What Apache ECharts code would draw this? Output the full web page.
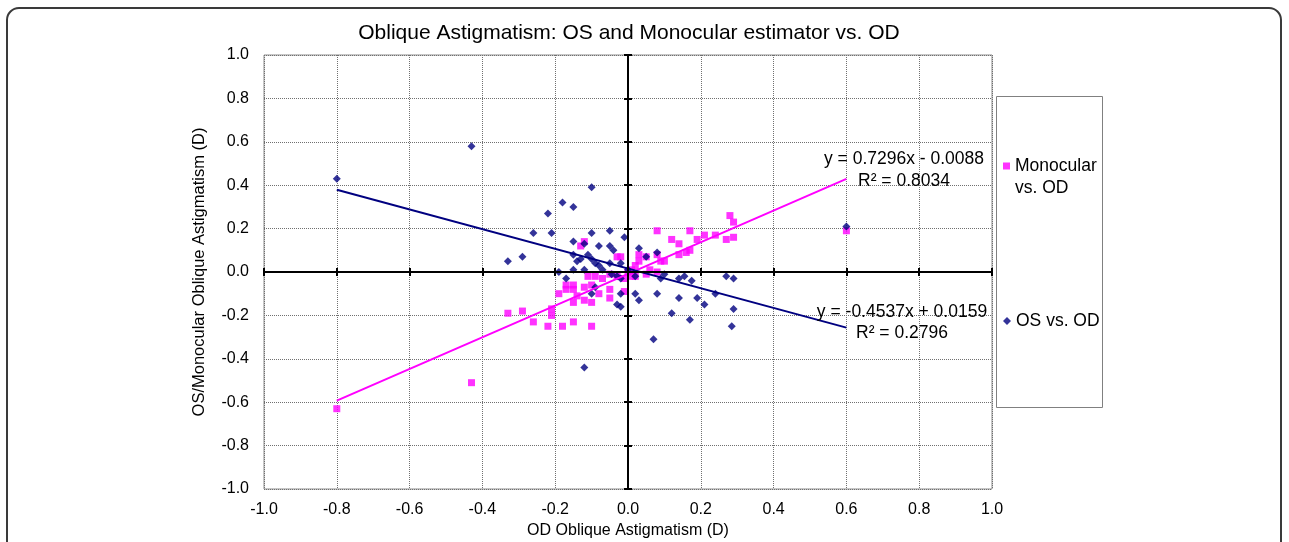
<!DOCTYPE html>
<html><head><meta charset="utf-8">
<script src="https://cdn.jsdelivr.net/npm/echarts@6/dist/echarts.min.js"></script>
<style>html,body{margin:0;padding:0;background:#fff}#c{width:1289px;height:542px}</style>
</head><body><div id="c"></div>
<script>
// ---- data ----
const titleText = 'Oblique Astigmatism: OS and Monocular estimator vs. OD';
const xAxisName = 'OD Oblique Astigmatism (D)';
const yAxisName = 'OS/Monocular Oblique Astigmatism (D)';
const axisRange = [-1, 1];
const axisStep = 0.2;

const monocularName = 'Monocular vs. OD';
const osName = 'OS vs. OD';

const monocularPoints = [
  [-0.80, -0.63], [-0.43, -0.51], [0.60, 0.19],
  [-0.33, -0.19], [-0.29, -0.18], [-0.26, -0.23], [-0.22, -0.25], [-0.21, -0.17],
  [-0.21, -0.20], [-0.18, -0.25], [-0.15, -0.23], [-0.10, -0.25], [-0.19, -0.10],
  [-0.17, -0.08], [-0.15, -0.08], [-0.14, -0.11], [-0.15, -0.14], [-0.12, -0.13],
  [-0.10, -0.14], [-0.12, -0.07], [-0.08, -0.10], [-0.05, -0.12], [-0.05, -0.08],
  [-0.11, -0.02], [-0.09, -0.02], [-0.07, -0.03], [-0.01, -0.09], [-0.03, -0.02],
  [-0.01, -0.03], [0.01, -0.02], [0.08, 0.19], [0.17, 0.19], [0.12, 0.15],
  [0.14, 0.13], [0.19, 0.15], [0.21, 0.17], [0.24, 0.17], [0.27, 0.15],
  [0.28, 0.26], [0.29, 0.23], [0.29, 0.16], [0.14, 0.08], [0.16, 0.09],
  [0.17, 0.10], [0.08, 0.08], [0.10, 0.05], [0.09, 0.05], [0.03, 0.08],
  [0.03, 0.05], [0.02, 0.03], [-0.02, 0.07], [0.08, 0.00], [-0.12, 0.14],
  [-0.13, 0.12], [0.00, 0.00], [-0.05, -0.01], [0.05, -0.01], [0.01, 0.01],
  [-0.03, 0.07], [0.05, 0.07], [-0.17, -0.06], [-0.15, -0.06], [-0.10, -0.06],
  [0.06, 0.01], [0.02, -0.02]
];

const osPoints = [
  [-0.80, 0.43], [-0.43, 0.58], [0.60, 0.21], [-0.10, 0.39], [-0.18, 0.32],
  [-0.15, 0.30], [-0.22, 0.27], [-0.26, 0.18], [-0.21, 0.18], [-0.10, 0.18],
  [-0.05, 0.19], [-0.01, 0.16], [-0.15, 0.14], [-0.12, 0.13], [-0.08, 0.12],
  [-0.05, 0.12], [-0.04, 0.10], [0.03, 0.11], [-0.29, 0.07], [-0.33, 0.05],
  [-0.15, 0.08], [-0.14, 0.05], [-0.13, 0.06], [-0.10, 0.06], [-0.11, 0.08],
  [-0.09, 0.04], [-0.05, 0.04], [-0.02, 0.04], [-0.08, 0.03], [-0.19, 0.00],
  [-0.17, -0.03], [-0.15, 0.01], [-0.12, 0.01], [-0.07, 0.01], [0.00, 0.01],
  [0.05, 0.07], [0.08, 0.09], [0.02, -0.02], [0.10, -0.01], [0.09, -0.03],
  [0.14, -0.03], [0.155, -0.02], [0.175, -0.04], [0.27, -0.02], [0.29, -0.03],
  [0.24, -0.10], [0.02, -0.10], [0.03, -0.13], [0.08, -0.10], [0.14, -0.12],
  [0.19, -0.12], [0.21, -0.15], [0.12, -0.19], [0.17, -0.22], [0.29, -0.17],
  [0.285, -0.25], [0.07, -0.31], [-0.02, -0.16], [-0.12, -0.44], [-0.09, -0.07],
  [-0.10, -0.10], [-0.045, -0.01], [-0.03, -0.02], [-0.02, -0.03], [-0.02, -0.10],
  [-0.03, -0.15]
];

// trendline coefficients as printed on the chart: slope, intercept, R²
const monocularFit = [0.7296, -0.0088, 0.8034];
const osFit = [-0.4537, 0.0159, 0.2796];

// ---- helpers ----
const FONT = 'Liberation Sans';
function fitLine(points, fit) {
  const xs = points.map(p => p[0]);
  const lo = Math.min(...xs), hi = Math.max(...xs);
  return [[lo, fit[0] * lo + fit[1]], [hi, fit[0] * hi + fit[1]]];
}
function eqText(fit) {
  const s = fit[0].toFixed(4);
  const b = fit[1] < 0 ? ' - ' + Math.abs(fit[1]).toFixed(4) : ' + ' + fit[1].toFixed(4);
  return 'y = ' + s + 'x' + b + '\nR² = ' + fit[2].toFixed(4);
}
const fmt = v => v.toFixed(1);
const PINK = '#FF00FF', NAVY = '#000080';

function zeroAxis(kind, inside) {
  return {
    type: 'value', min: axisRange[0], max: axisRange[1], interval: axisStep,
    position: kind === 'x' ? 'bottom' : 'left',
    axisLine: { show: true, onZero: true, onZeroAxisIndex: 0, lineStyle: { color: '#000', width: 2 } },
    axisTick: { show: true, inside: inside, length: 4, lineStyle: { color: '#000', width: 2 } },
    axisLabel: { show: false }, splitLine: { show: false }, z: 5
  };
}

const chart = echarts.init(document.getElementById('c'), null, { renderer: 'canvas' });
chart.setOption({
  animation: false,
  backgroundColor: '#fff',
  textStyle: { fontFamily: FONT, color: '#000' },
  title: {
    text: titleText, left: 629, top: 23, textAlign: 'center', padding: 0,
    textStyle: { fontFamily: FONT, fontSize: 21, fontWeight: 'normal', color: '#000' }
  },
  grid: {
    left: 264, top: 55, width: 728, height: 434,
    show: true, borderColor: '#8c8c8c', borderWidth: 1, containLabel: false, outerBoundsMode: 'none'
  },
  xAxis: [
    {
      type: 'value', min: axisRange[0], max: axisRange[1], interval: axisStep, position: 'bottom',
      axisLine: { show: false, onZero: false }, axisTick: { show: false },
      axisLabel: { formatter: fmt, fontSize: 16, color: '#000', margin: 13, fontFamily: FONT },
      splitLine: { show: true, lineStyle: { type: 'dotted', color: '#707070', width: 1 } },
      name: xAxisName, nameLocation: 'middle', nameGap: 31,
      nameTextStyle: { fontSize: 16, color: '#000', fontFamily: FONT }
    },
    zeroAxis('x', true), zeroAxis('x', false)
  ],
  yAxis: [
    {
      type: 'value', min: axisRange[0], max: axisRange[1], interval: axisStep, position: 'left',
      axisLine: { show: false, onZero: false }, axisTick: { show: false },
      axisLabel: { formatter: fmt, fontSize: 16, color: '#000', margin: 15, fontFamily: FONT },
      splitLine: { show: true, lineStyle: { type: 'dotted', color: '#707070', width: 1 } },
      name: yAxisName, nameLocation: 'middle', nameGap: 56,
      nameTextStyle: { fontSize: 16.5, color: '#000', fontFamily: FONT }
    },
    zeroAxis('y', true), zeroAxis('y', false)
  ],
  legend: [
    {
      data: [{ name: monocularName, icon: 'rect' }], left: 1003, top: 133, orient: 'vertical',
      itemWidth: 7, itemHeight: 7, selectedMode: false, padding: 0,
      // a blank first line keeps the marker level with the first text line
      formatter: n => ' \n' + n.replace(' vs.', '\nvs.'),
      textStyle: { fontSize: 17.5, lineHeight: 22, color: '#000', fontFamily: FONT }
    },
    {
      data: [{ name: osName, icon: 'diamond' }], left: 1003, top: 311, orient: 'vertical',
      itemWidth: 8, itemHeight: 8, selectedMode: false, padding: 0,
      textStyle: { fontSize: 17.5, lineHeight: 20, color: '#000', fontFamily: FONT }
    }
  ],
  graphic: [
    { type: 'rect', shape: { x: 7, y: 8, width: 1274, height: 620, r: 12 },
      style: { fill: 'none', stroke: '#3a3a3a', lineWidth: 2 }, silent: true, z: 100 },
    { type: 'rect', shape: { x: 996.5, y: 96.5, width: 106, height: 311 },
      style: { fill: 'none', stroke: '#808080', lineWidth: 1 }, silent: true },
    { type: 'text', x: 904, y: 148, style: { text: eqText(monocularFit), fontSize: 17.5, lineHeight: 22,
      fontFamily: FONT, fill: '#000', align: 'center', verticalAlign: 'top' }, z: 50 },
    { type: 'text', x: 902, y: 302, style: { text: eqText(osFit), fontSize: 17.5, lineHeight: 21,
      fontFamily: FONT, fill: '#000', align: 'center', verticalAlign: 'top' }, z: 50 }
  ],
  series: [
    {
      name: monocularName, type: 'scatter', data: monocularPoints, symbol: 'rect', symbolSize: 7,
      itemStyle: { color: PINK }, z: 3
    },
    {
      name: osName, type: 'scatter', data: osPoints, symbol: 'diamond', symbolSize: 8,
      itemStyle: { color: NAVY }, z: 3
    },
    {
      name: 'Monocular trend', type: 'line', data: fitLine(monocularPoints, monocularFit),
      symbol: 'none', lineStyle: { color: PINK, width: 2 }, silent: true, z: 4
    },
    {
      name: 'OS trend', type: 'line', data: fitLine(osPoints, osFit),
      symbol: 'none', lineStyle: { color: NAVY, width: 2 }, silent: true, z: 4
    }
  ]
});
</script></body></html>
